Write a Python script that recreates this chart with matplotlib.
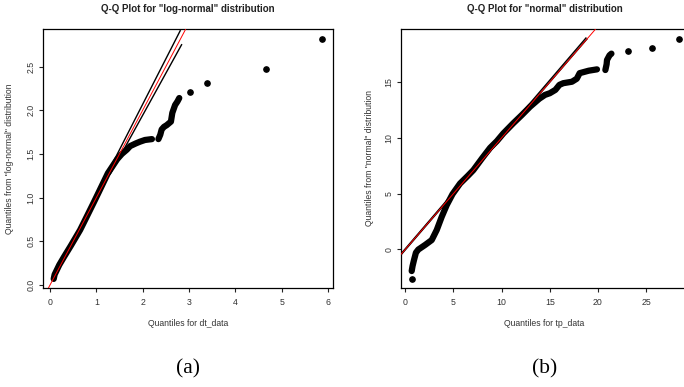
#importing the modules
import numpy as np
import matplotlib.pyplot as plt

plt.rcParams['font.family'] = ['Liberation Sans', 'DejaVu Sans']

# ---- log-normal panel (a): dense part of the Q-Q points
ln_x1 = [0.08, 0.10, 0.20, 0.30, 0.45, 0.65, 0.80, 0.94, 1.05, 1.15, 1.25, 1.35,
         1.45, 1.55, 1.66, 1.73, 1.85, 1.94, 2.05, 2.20]
ln_y1 = [0.07, 0.12, 0.23, 0.32, 0.45, 0.63, 0.79, 0.94, 1.06, 1.17, 1.28, 1.36,
         1.44, 1.50, 1.55, 1.59, 1.62, 1.64, 1.66, 1.67]
ln_x2 = [2.34, 2.38, 2.41, 2.46, 2.52, 2.61, 2.64, 2.70, 2.75, 2.79]
ln_y2 = [1.67, 1.72, 1.78, 1.81, 1.83, 1.87, 1.97, 2.06, 2.10, 2.14]
# isolated points
ln_px = [3.03, 3.38, 4.67, 5.87]
ln_py = [2.21, 2.31, 2.47, 2.82]
# reference line (red) and band lines (black)
ln_ref = [0.0, 1.0]            # intercept, slope
ln_up_x = [1.28, 2.81]
ln_up_y = [1.32, 2.91]
ln_lo_x = [1.30, 2.84]
ln_lo_y = [1.27, 2.75]

# ---- normal panel (b)
nm_x1 = [0.66, 0.75, 0.90, 1.10, 1.35, 2.05, 2.74, 3.26, 3.78, 4.30, 4.90, 5.68,
         6.50, 7.06, 8.00, 8.80, 9.50, 10.18, 11.20, 12.09, 12.95, 13.50, 13.90,
         14.50, 15.00, 15.58, 16.00, 16.40, 17.30, 17.80, 18.10, 19.04, 19.90]
nm_y1 = [-1.95, -1.50, -0.96, -0.30, -0.02, 0.39, 0.83, 1.73, 2.92, 3.97, 4.95, 5.90,
         6.60, 7.10, 8.20, 9.10, 9.70, 10.40, 11.30, 12.04, 12.79, 13.20, 13.50,
         13.85, 14.00, 14.30, 14.75, 14.90, 15.03, 15.30, 15.80, 16.02, 16.14]
nm_x2 = [20.77, 20.90, 20.94, 21.20, 21.40]
nm_y2 = [16.08, 16.60, 16.98, 17.40, 17.55]
nm_px = [0.66, 23.15, 25.60, 28.45]
nm_py = [-2.69, 17.75, 18.10, 18.85]
nm_ref = [0.0, 1.0]
nm_up_x = [-0.45, 18.75]
nm_up_y = [-0.40, 18.95]
nm_lo_x = [-0.45, 18.85]
nm_lo_y = [-0.50, 18.85]

fig = plt.figure(figsize=(6.84, 3.87), dpi=100)
W, H = 684.0, 387.0

def panel(rect, xs, ys, px, py, ref, up, lo, xlim, ylim, xticks, yticks,
          title, xlabel, ylabel, ylab_x, caption):
    l, t, r, b = rect
    ax = fig.add_axes([l / W, 1 - b / H, (r - l) / W, (b - t) / H])
    for x, y in zip(xs, ys):
        ax.plot(x, y, color='black', lw=4.5, solid_capstyle='round',
                solid_joinstyle='round', zorder=3)
    ax.plot(px, py, 'o', color='black', ms=3.8, zorder=3)
    ax.plot(up[0], up[1], color='black', lw=1.0, zorder=4)
    ax.plot(lo[0], lo[1], color='black', lw=1.0, zorder=4)
    xx = np.array(xlim)
    ax.plot(xx, ref[0] + ref[1] * xx, color='red', lw=0.7, zorder=5)
    ax.set_xlim(xlim)
    ax.set_ylim(ylim)
    ax.set_xticks(xticks)
    ax.set_yticks(yticks)
    ax.set_yticklabels(['%g' % v if isinstance(v, int) else '%.1f' % v for v in yticks])
    ax.tick_params(length=2.9, width=0.8, labelsize=6.3, color='#222222',
                   labelcolor='#333333')
    ax.tick_params(axis='x', pad=4.5)
    ax.tick_params(axis='y', pad=2.5)
    for lbl in ax.get_yticklabels():
        lbl.set_rotation(90)
        lbl.set_va('center')
    for s in ax.spines.values():
        s.set_linewidth(0.9)
    cx = (l + r) / 2 / W
    fig.text(cx, 1 - 9.5 / H, title, ha='center', va='center',
             fontsize=7.0, fontweight='bold', color='#222222')
    fig.text(cx, 1 - 323 / H, xlabel, ha='center', va='center',
             fontsize=6.2, color='#333333')
    fig.text(ylab_x / W, 1 - (t + b) / 2 / H, ylabel, ha='center', va='center',
             rotation=90, fontsize=6.2, color='#333333')
    fig.text(cx, 1 - 369 / H, caption, ha='center', va='center',
             fontsize=15.5, family=['Liberation Serif', 'DejaVu Serif'])
    return ax

panel((43, 29, 333, 288), [ln_x1, ln_x2], [ln_y1, ln_y2], ln_px, ln_py, ln_ref,
      (ln_up_x, ln_up_y), (ln_lo_x, ln_lo_y), (-0.151, 6.108), (-0.034, 2.93),
      [0, 1, 2, 3, 4, 5, 6], [0.0, 0.5, 1.0, 1.5, 2.0, 2.5],
      'Q-Q Plot for "log-normal" distribution', 'Quantiles for dt_data',
      'Quantiles from "log-normal" distribution', 10, '(a)')

panel((401, 29, 688, 288), [nm_x1, nm_x2], [nm_y1, nm_y2], nm_px, nm_py, nm_ref,
      (nm_up_x, nm_up_y), (nm_lo_x, nm_lo_y), (-0.45, 29.35), (-3.47, 19.76),
      [0, 5, 10, 15, 20, 25], [0, 5, 10, 15],
      'Q-Q Plot for "normal" distribution', 'Quantiles for tp_data',
      'Quantiles from "normal" distribution', 369, '(b)')

plt.savefig('out.png', dpi=100)
